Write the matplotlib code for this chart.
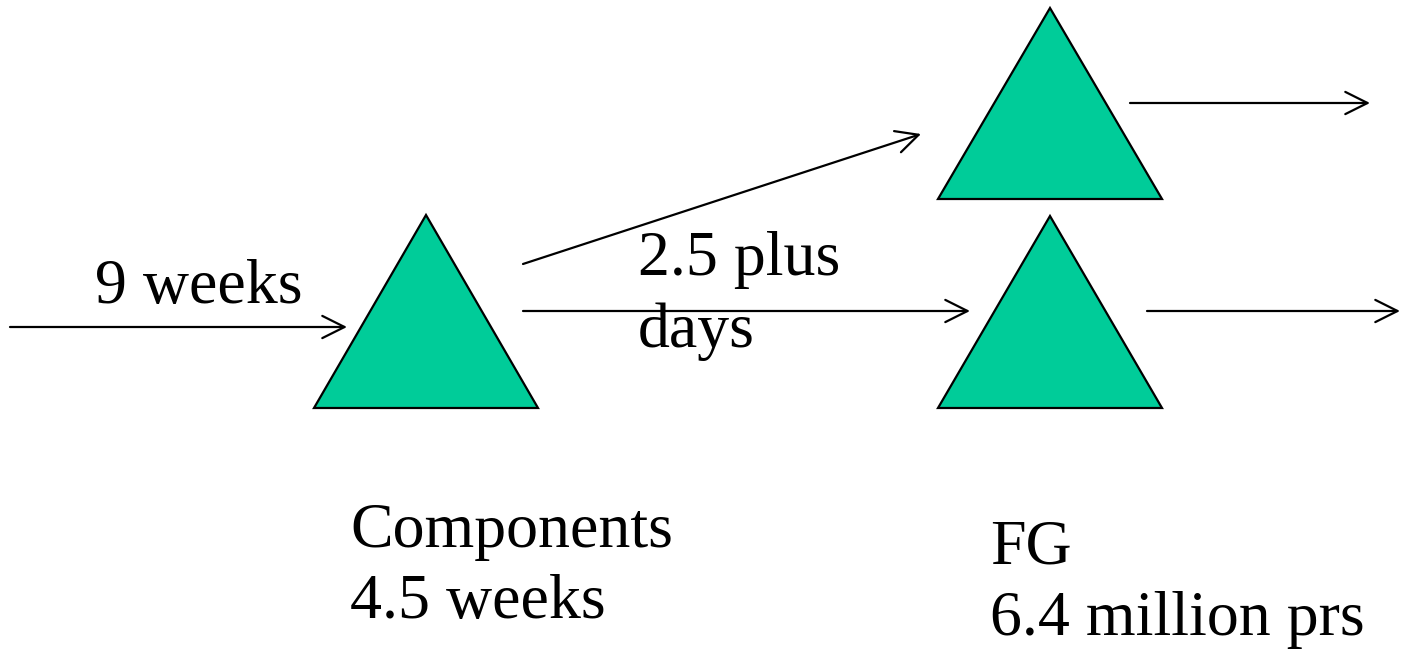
import matplotlib.pyplot as plt
from matplotlib.patches import Polygon

plt.rcParams['font.family'] = ['Liberation Serif', 'DejaVu Serif']

# stock points: apex x, apex y, base y (pixel space, y down)
stock_x = [426, 1050, 1050]
stock_top = [215, 8, 216]
stock_base = [408, 199, 408]
half_width = 112

# flows: start and end points
flow_x0 = [10, 523, 523, 1130, 1147]
flow_y0 = [327, 264, 311, 103, 311]
flow_x1 = [347, 921, 970, 1370, 1400]
flow_y1 = [327, 134, 311, 103, 311]

labels = ["9 weeks", "2.5 plus\ndays", "Components\n4.5 weeks", "FG\n6.4 million prs"]
label_x = [95, 638, 350, 990]
label_y = [303, 347, 618, 635]   # baseline of last line

fig = plt.figure(figsize=(14.01, 6.5), dpi=100)
ax = fig.add_axes([0, 0, 1, 1])
ax.set_xlim(0, 1401)
ax.set_ylim(650, 0)
ax.axis('off')

for x, top, base in zip(stock_x, stock_top, stock_base):
    tri = Polygon([(x, top), (x - half_width, base), (x + half_width, base)],
                  closed=True, facecolor='#00CC99', edgecolor='black', lw=1.6)
    ax.add_patch(tri)

for x0, y0, x1, y1 in zip(flow_x0, flow_y0, flow_x1, flow_y1):
    ax.annotate('', xy=(x1, y1), xytext=(x0, y0),
                arrowprops=dict(arrowstyle='->,head_length=1.6,head_width=0.8',
                                lw=1.6, color='black', shrinkA=0, shrinkB=0))

for txt, x, y in zip(labels, label_x, label_y):
    ax.text(x, y, txt, fontsize=46, ha='left', va='baseline',
            linespacing=1.3, color='black')

fig.savefig('out.png', dpi=100)
